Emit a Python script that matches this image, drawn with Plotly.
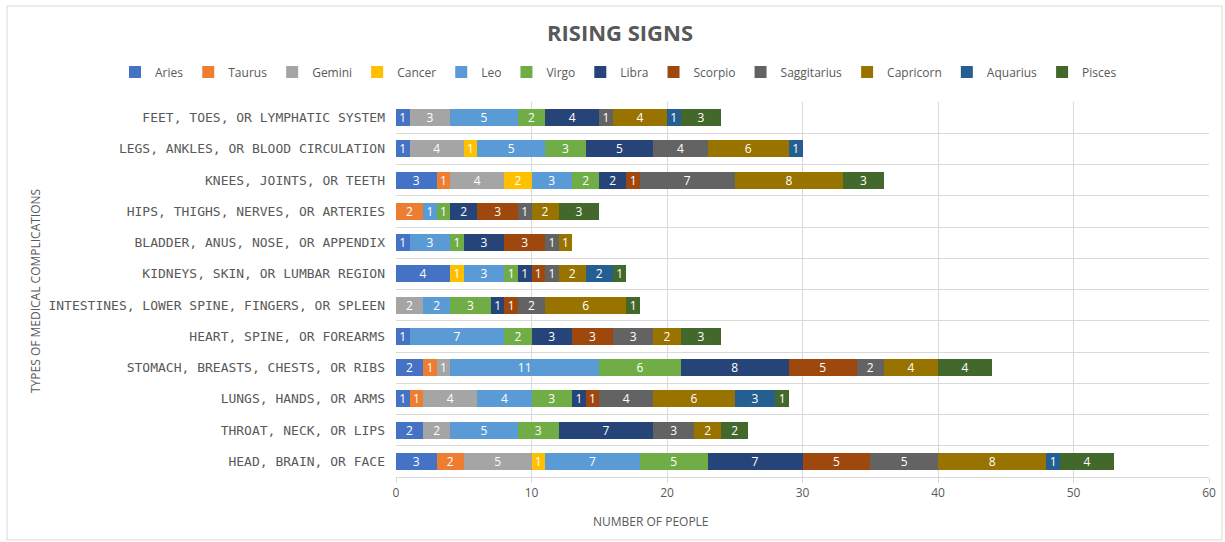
import plotly.graph_objects as go

categories = [
    "HEAD, BRAIN, OR FACE",
    "THROAT, NECK, OR LIPS",
    "LUNGS, HANDS, OR ARMS",
    "STOMACH, BREASTS, CHESTS, OR RIBS",
    "HEART, SPINE, OR FOREARMS",
    "INTESTINES, LOWER SPINE, FINGERS, OR SPLEEN",
    "KIDNEYS, SKIN, OR LUMBAR REGION",
    "BLADDER, ANUS, NOSE, OR APPENDIX",
    "HIPS, THIGHS, NERVES, OR ARTERIES",
    "KNEES, JOINTS, OR TEETH",
    "LEGS, ANKLES, OR BLOOD CIRCULATION",
    "FEET, TOES, OR LYMPHATIC SYSTEM",
]

# values per series, in the same order as categories (None = no bar)
aries       = [3, 2, 1, 2, 1, None, 4, 1, None, 3, 1, 1]
taurus      = [2, None, 1, 1, None, None, None, None, 2, 1, None, None]
gemini      = [5, 2, 4, 1, None, 2, None, None, None, 4, 4, 3]
cancer      = [1, None, None, None, None, None, 1, None, None, 2, 1, None]
leo         = [7, 5, 4, 11, 7, 2, 3, 3, 1, 3, 5, 5]
virgo       = [5, 3, 3, 6, 2, 3, 1, 1, 1, 2, 3, 2]
libra       = [7, 7, 1, 8, 3, 1, 1, 3, 2, 2, 5, 4]
scorpio     = [5, None, 1, 5, 3, 1, 1, 3, 3, 1, None, None]
saggitarius = [5, 3, 4, 2, 3, 2, 1, 1, 1, 7, 4, 1]
capricorn   = [8, 2, 6, 4, 2, 6, 2, 1, 2, 8, 6, 4]
aquarius    = [1, None, 3, None, None, None, 2, None, None, None, 1, 1]
pisces      = [4, 2, 1, 4, 3, 1, 1, None, 3, 3, None, 3]

series_names = ["Aries", "Taurus", "Gemini", "Cancer", "Leo", "Virgo", "Libra",
                "Scorpio", "Saggitarius", "Capricorn", "Aquarius", "Pisces"]
series_values = [aries, taurus, gemini, cancer, leo, virgo, libra,
                 scorpio, saggitarius, capricorn, aquarius, pisces]
colors = ["#4472C4", "#ED7D31", "#A5A5A5", "#FFC000", "#5B9BD5", "#70AD47",
          "#264478", "#9E480E", "#636363", "#997300", "#255E91", "#43682B"]

x_ticks = [0, 10, 20, 30, 40, 50, 60]

FONT = "Open Sans"
GREY = "#595959"

fig = go.Figure()
for name, vals, col in zip(series_names, series_values, colors):
    fig.add_trace(go.Bar(
        y=categories, x=vals, name=name, orientation="h",
        marker=dict(color=col, line=dict(width=0)),
        texttemplate="%{x}", textposition="inside", insidetextanchor="middle",
        textangle=0, constraintext="none",
        textfont=dict(color="white", size=12, family=FONT),
    ))

W, H = 1225, 542
L, R, T, B = 396, 16, 102, 65
pw, ph = W - L - R, H - T - B

def px_x(x):
    return (x - L) / pw

def px_y(y):
    return (H - B - y) / ph

fig.update_layout(
    width=W, height=H,
    barmode="stack", bargap=0.45,
    margin=dict(l=L, r=R, t=T, b=B, autoexpand=False),
    paper_bgcolor="white", plot_bgcolor="white",
    font=dict(family=FONT, color=GREY),
    uniformtext=dict(minsize=12, mode="show"),
    title=dict(text="<b>RISING SIGNS</b>", x=620 / W, xref="container", xanchor="center",
               y=1 - 33 / H, yref="container", yanchor="middle",
               font=dict(size=22, color=GREY, family=FONT)),
    showlegend=True,
    legend=dict(orientation="h", xref="paper", x=px_x(115), xanchor="left",
                yref="paper", y=px_y(72), yanchor="middle",
                font=dict(size=12, color=GREY, family=FONT), traceorder="normal",
                itemwidth=30, tracegroupgap=0),
    xaxis=dict(range=[0, 60], tickvals=x_ticks, showgrid=True, gridcolor="#D9D9D9", gridwidth=1,
               showline=True, linecolor="#D9D9D9", ticks="outside", ticklen=5, tickcolor="#D9D9D9",
               tickfont=dict(size=12, color=GREY, family=FONT), zeroline=False, fixedrange=True),
    yaxis=dict(type="category", categoryorder="array", categoryarray=categories,
               showgrid=True, gridcolor="#D9D9D9", tickson="boundaries", ticks="",
               showline=False, tickfont=dict(size=13, color=GREY, family="DejaVu Sans Mono"),
               ticklabelstandoff=10, fixedrange=True),
    annotations=[
        dict(text="NUMBER OF PEOPLE", x=px_x(651), y=px_y(521), xref="paper", yref="paper",
             showarrow=False, font=dict(size=12, color=GREY, family=FONT),
             xanchor="center", yanchor="middle"),
        dict(text="TYPES OF MEDICAL COMPLICATIONS", x=px_x(35), y=px_y(291), xref="paper", yref="paper",
             showarrow=False, textangle=-90, font=dict(size=12, color=GREY, family=FONT),
             xanchor="center", yanchor="middle"),
    ],
    shapes=[dict(type="rect", xref="paper", yref="paper",
                 x0=px_x(7), x1=px_x(1222), y0=px_y(540), y1=px_y(6),
                 line=dict(color="#D9D9D9", width=1), fillcolor="rgba(0,0,0,0)", layer="below")],
)

fig.write_html("out.html", config={"displayModeBar": False},
               post_script="document.body.style.margin='0px';")
